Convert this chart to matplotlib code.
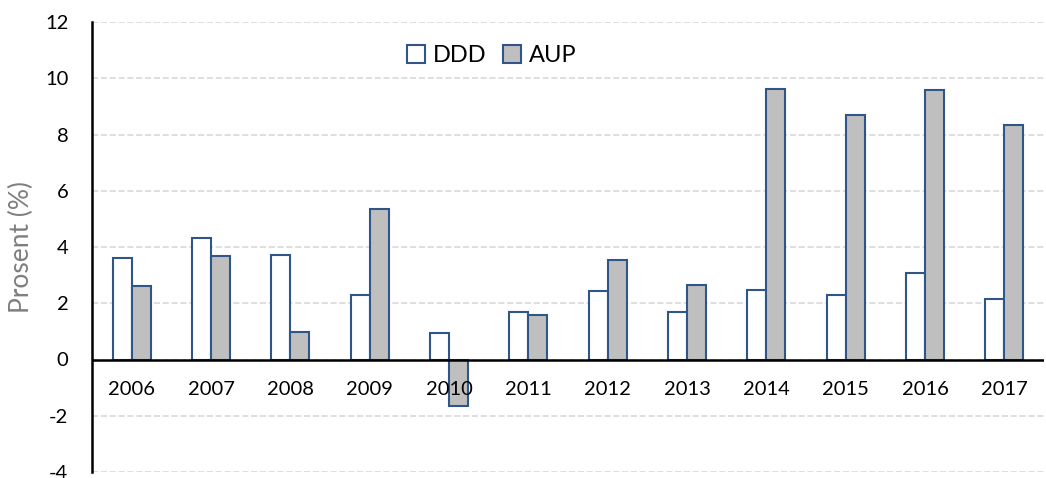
import numpy as np
import matplotlib
matplotlib.use('Agg')
import matplotlib.pyplot as plt
from matplotlib.patches import Patch

# data
years = ['2006', '2007', '2008', '2009', '2010', '2011',
         '2012', '2013', '2014', '2015', '2016', '2017']
ddd = [3.62, 4.33, 3.70, 2.31, 0.95, 1.70, 2.43, 1.70, 2.47, 2.31, 3.06, 2.15]
aup = [2.60, 3.68, 0.97, 5.35, -1.67, 1.57, 3.55, 2.65, 9.62, 8.71, 9.60, 8.33]
yticks = [-4, -2, 0, 2, 4, 6, 8, 10, 12]

plt.rcParams['font.family'] = ['Lato', 'DejaVu Sans']

edge = '#2F5589'
grey = '#BFBFBF'

fig = plt.figure(figsize=(10.46, 4.78), dpi=100)
ax = fig.add_axes([92 / 1046, 1 - 472 / 478, (1044 - 92) / 1046, (472 - 22) / 478])

x = np.arange(len(years))
w = 0.24
ax.bar(x - w / 2, ddd, w, color='white', edgecolor=edge, linewidth=1.5, label='DDD', zorder=3)
ax.bar(x + w / 2, aup, w, color=grey, edgecolor=edge, linewidth=1.5, label='AUP', zorder=3)

ax.set_xlim(-0.5, len(years) - 0.5)
ax.set_ylim(-4, 12)
ax.set_yticks(yticks)
ax.set_yticklabels([str(t) for t in yticks], fontsize=14.5)
ax.tick_params(axis='y', length=0, pad=17)
ax.set_xticks([])
for i, yr in enumerate(years):
    ax.text(i, -1.07, yr, ha='center', va='center', fontsize=14.5, zorder=4)

ax.grid(axis='y', color='#D9D9D9', linestyle='--', linewidth=1.2, zorder=0)
ax.axhline(0, color='black', linewidth=1.8, zorder=4)
for s in ['top', 'right', 'bottom']:
    ax.spines[s].set_visible(False)
ax.spines['left'].set_linewidth(1.8)

ax.set_ylabel('Prosent (%)', fontsize=19, color='#7F7F7F')
ax.yaxis.set_label_coords(-0.061, 0.5)

handles = [Patch(facecolor='white', edgecolor=edge, linewidth=1.5, label='DDD'),
           Patch(facecolor=grey, edgecolor=edge, linewidth=1.5, label='AUP')]
ax.legend(handles=handles, loc='center', bbox_to_anchor=(0.42, 0.925), ncol=2,
          frameon=False, fontsize=17, handlelength=0.75, handleheight=0.75,
          handletextpad=0.35, columnspacing=0.7)

fig.savefig('out.png', dpi=100)
